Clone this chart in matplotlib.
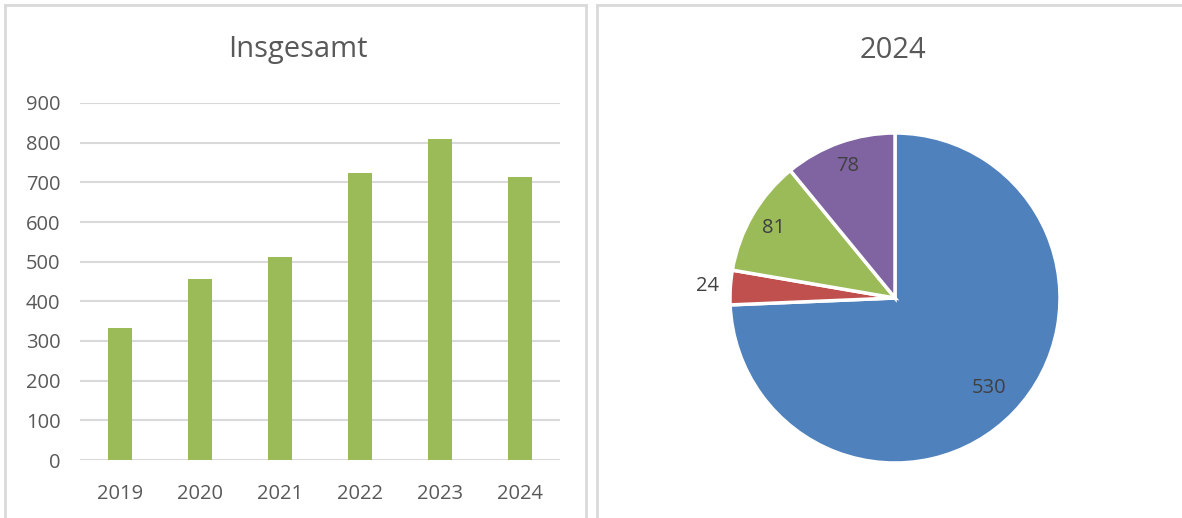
#!/usr/bin/env python

import numpy
from matplotlib import pyplot
from matplotlib.patches import Rectangle


# Data

years = ["2019", "2020", "2021", "2022", "2023", "2024"]
totals = [333, 456, 511, 724, 808, 713]

pie_values = [530, 24, 81, 78]
pie_colors = ["#4F81BD", "#C0504D", "#9BBB59", "#8064A2"]

# Style

text_color = "#595959"
grid_color = "#D9D9D9"
bar_color = "#9BBB59"
pyplot.rcParams["font.family"] = ["Open Sans", "DejaVu Sans"]

W, H = 1182, 518
fig = pyplot.figure(figsize=(W / 100, H / 100), dpi=100)

# Panel borders (pixel coords -> figure fraction)
for x0, y0, x1, y1 in [(5, 5, 586, 530), (597, 5, 1190, 530)]:
    fig.patches.append(
        Rectangle(
            (x0 / W, 1 - y1 / H), (x1 - x0) / W, (y1 - y0) / H,
            transform=fig.transFigure, fill=False, edgecolor=grid_color, lw=2,
        )
    )

# Bar chart
ax = fig.add_axes([80 / W, 58 / H, 480 / W, 357 / H])
x = numpy.arange(len(years))
ax.bar(x, totals, width=0.31, color=bar_color, zorder=3)
ax.set_xlim(-0.5, len(years) - 0.5)
ax.set_ylim(0, 900)
ax.set_yticks(range(0, 901, 100))
ax.set_xticks(x, years)
ax.yaxis.grid(True, color=grid_color, lw=1.5, zorder=0)
for s in ax.spines.values():
    s.set_visible(False)
ax.tick_params(length=0, labelsize=14.5, colors=text_color)
ax.tick_params(axis="y", pad=14)
ax.tick_params(axis="x", pad=17)
fig.text(298 / W, 1 - 50 / H, "Insgesamt", ha="center", va="center",
         fontsize=21, color=text_color)

# Pie chart
r = 165
axp = fig.add_axes([(895 - r) / W, (H - 298 - r) / H, 2 * r / W, 2 * r / H])
wedges, _ = axp.pie(
    pie_values, colors=pie_colors, startangle=90, counterclock=False,
    wedgeprops=dict(edgecolor="white", linewidth=2.5),
)
axp.set_xlim(-1, 1)
axp.set_ylim(-1, 1)
label_r = [0.79, 1.14, 0.85, 0.85]
for w, v, lr in zip(wedges, pie_values, label_r):
    ang = numpy.deg2rad((w.theta1 + w.theta2) / 2)
    axp.text(lr * numpy.cos(ang), lr * numpy.sin(ang), str(v),
             ha="center", va="center", fontsize=14.5, color="#404040")
fig.text(893 / W, 1 - 50 / H, "2024", ha="center", va="center",
         fontsize=21, color=text_color)

fig.savefig("out.png", dpi=100)
